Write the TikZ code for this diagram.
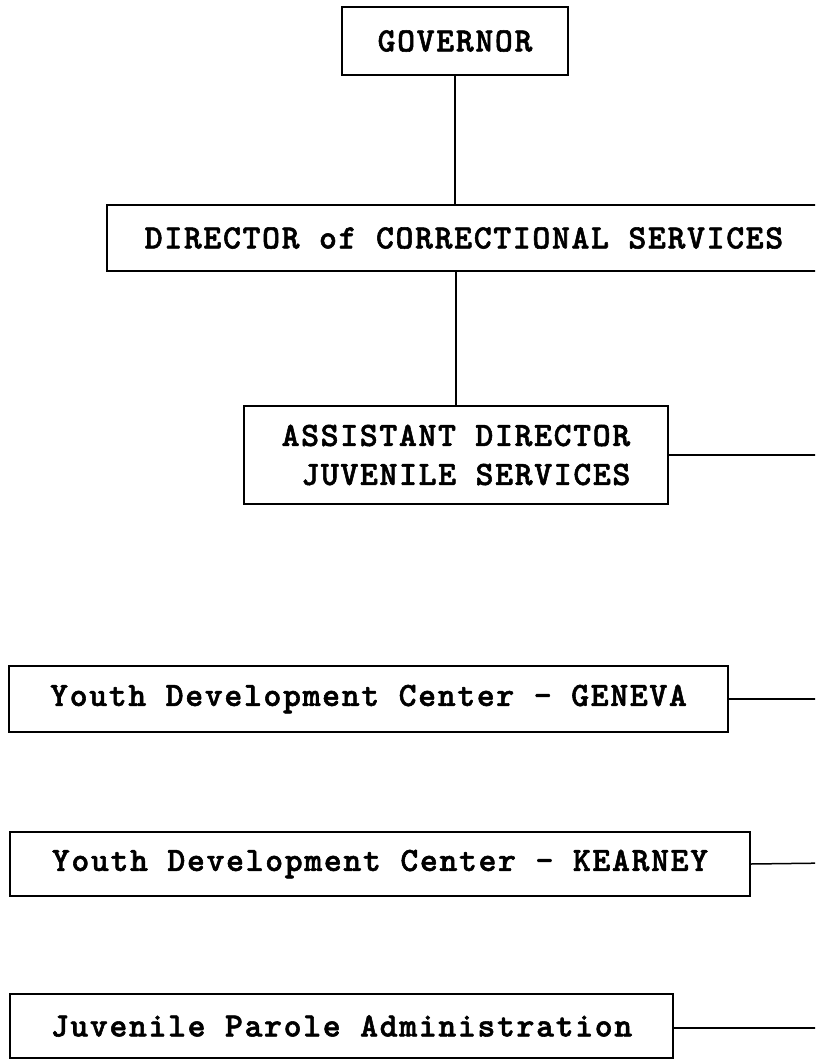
\documentclass[tikz,border=0pt]{standalone}
\usepackage{fontspec}
\newfontfamily\typew[LetterSpace=5,FakeBold=1.6]{lmmonolt10-bold.otf}
\begin{document}
\begin{tikzpicture}[x=1pt,y=-1pt,
  orgbox/.style={draw=black, line width=1.7pt, rectangle, inner sep=0pt,
    font=\typew\fontsize{34}{39}\selectfont, text=black},
  link/.style={draw=black, line width=1.5pt}]
\useasboundingbox (0,0) rectangle (815,1060);
\clip (0,0) rectangle (815,1060);
\fill[white] (0,0) rectangle (815,1060);

\node[orgbox, minimum width=226pt, minimum height=68pt] (gov) at (455,41) {GOVERNOR};
\node[orgbox, minimum width=714pt, minimum height=66pt] (dir) at (464,238) {DIRECTOR of CORRECTIONAL SERVICES};
\node[orgbox, minimum width=424pt, minimum height=98pt, align=left] (asst) at (456,455)
  {ASSISTANT DIRECTOR\\[0pt]\hspace*{0.58em}JUVENILE SERVICES};
\node[orgbox, minimum width=719pt, minimum height=66pt] (gen) at (368.5,699) {Youth Development Center - GENEVA};
\node[orgbox, minimum width=740pt, minimum height=64pt] (kea) at (380,864) {Youth Development Center - KEARNEY};
\node[orgbox, minimum width=663pt, minimum height=64pt] (juv) at (341.5,1026) {Juvenile Parole Administration};

\coordinate (ea) at (830,455);
\coordinate (eg) at (830,699);
\coordinate (ek) at (830,863);
\coordinate (ej) at (830,1028);

\draw[link] (gov.south) -- (gov.south |- dir.north);
\draw[link] (asst.north) -- (asst.north |- dir.south);
\draw[link] (asst.east) -- (ea);
\draw[link] (gen.east) -- (eg);
\draw[link] (kea.east) -- (ek);
\draw[link] (juv.east |- ej) -- (ej);
\end{tikzpicture}
\end{document}
